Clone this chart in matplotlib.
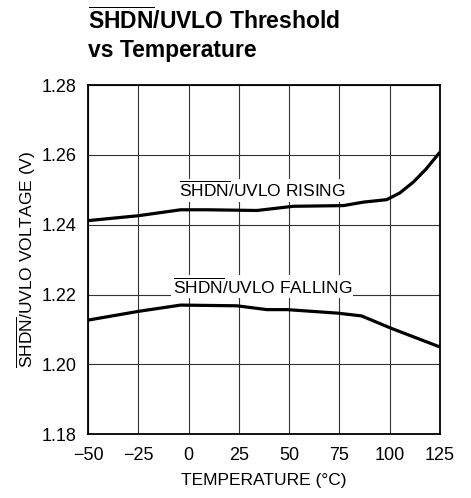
import matplotlib
matplotlib.use('Agg')

import matplotlib.pyplot as plt
from matplotlib import font_manager

# Data
temp_rising = [-50, -25, -4, 10, 34, 52, 77, 87, 98.5, 105, 111.7, 118, 125]
volt_rising = [1.2412, 1.2426, 1.2443, 1.2443, 1.2441, 1.2453, 1.2455, 1.2465,
               1.2472, 1.2491, 1.2522, 1.2559, 1.2608]

temp_falling = [-50, -25, -4, 24, 39, 49, 74, 86, 101, 125]
volt_falling = [1.2127, 1.2152, 1.2170, 1.2168, 1.2157, 1.2157, 1.2147, 1.2139,
                1.2103, 1.2050]

x_ticks = [-50, -25, 0, 25, 50, 75, 100, 125]
y_ticks = [1.18, 1.20, 1.22, 1.24, 1.26, 1.28]

# Pick a narrow font if there is one
names = {f.name for f in font_manager.fontManager.ttflist}
family = 'Liberation Sans Narrow' if 'Liberation Sans Narrow' in names else 'Liberation Sans'
plt.rcParams['font.family'] = [family, 'DejaVu Sans']
plt.rcParams['mathtext.fontset'] = 'custom'
plt.rcParams['mathtext.rm'] = family
plt.rcParams['mathtext.bf'] = family + ':bold'

fig = plt.figure(figsize=(4.71, 4.98), dpi=100)
ax = fig.add_axes([0.187, 0.128, 0.747, 0.701])

ax.plot(temp_rising, volt_rising, color='black', lw=2.3, solid_capstyle='butt', zorder=3)
ax.plot(temp_falling, volt_falling, color='black', lw=2.3, solid_capstyle='butt', zorder=3)

ax.set_xlim(-50, 125)
ax.set_ylim(1.18, 1.28)
ax.set_xticks(x_ticks)
ax.set_yticks(y_ticks)
ax.set_yticklabels(['%.2f' % v for v in y_ticks])
ax.tick_params(length=0, labelsize=13)
ax.tick_params(axis='x', pad=9)
ax.tick_params(axis='y', pad=8)
ax.grid(True, color='#333333', lw=0.8)
for s in ax.spines.values():
    s.set_linewidth(1.3)

# Curve labels with white boxes hiding the grid
box = dict(facecolor='white', edgecolor='none', pad=1)
ax.text(36.7, 1.2499, r'$\overline{\mathrm{SHDN}}$/UVLO RISING', ha='center', va='center',
        fontsize=12.5, bbox=box, zorder=2)
ax.text(36.7, 1.2222, r'$\overline{\mathrm{SHDN}}$/UVLO FALLING', ha='center', va='center',
        fontsize=12.5, bbox=box, zorder=2)

ax.set_xlabel('TEMPERATURE (°C)', fontsize=12.5, labelpad=7)
ax.set_ylabel(r'$\overline{\mathrm{SHDN}}$/UVLO VOLTAGE (V)', fontsize=12.5, labelpad=3)

fig.text(0.187, 0.942, r'$\overline{\mathbf{SHDN}}$/UVLO Threshold', fontsize=16.5,
         fontweight='bold', ha='left', va='baseline')
fig.text(0.187, 0.885, 'vs Temperature', fontsize=16.5,
         fontweight='bold', ha='left', va='baseline')

fig.savefig('out.png', dpi=100)
plt.close()
